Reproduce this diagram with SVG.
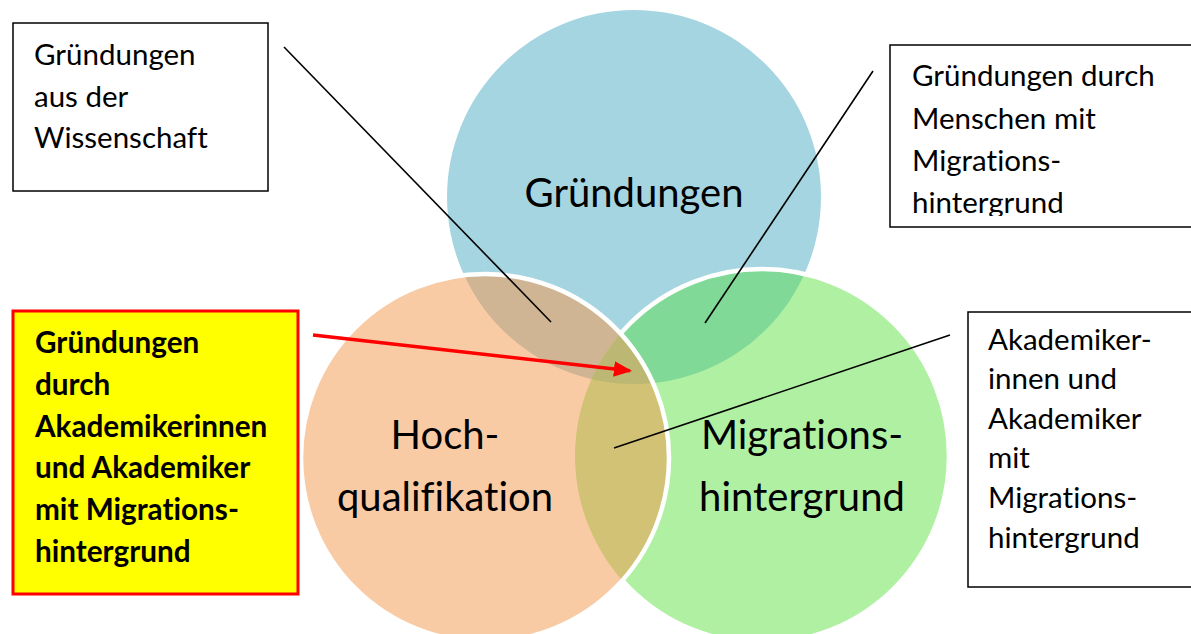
<svg xmlns="http://www.w3.org/2000/svg" width="1191" height="634" viewBox="0 0 1191 634">
<style>
  text { font-family: Lato, "Liberation Sans", sans-serif; fill: #000; font-variant-ligatures: none; font-feature-settings: "liga" 0, "clig" 0; }
  .big { font-size: 40px; text-anchor: middle; }
  .box { fill: #fff; stroke: #000; stroke-width: 1.5; }
  .bt { font-size: 29.5px; }
  .bold { font-size: 29.7px; font-weight: bold; }
  .conn { stroke: #000; stroke-width: 1.6; fill: none; }
</style>
<defs>
  <clipPath id="cBlue"><circle cx="634" cy="197" r="187"/></clipPath>
  <clipPath id="cGreen"><circle cx="762" cy="456" r="187"/></clipPath>
  <clipPath id="cBox2"><rect x="880" y="40" width="320" height="176"/></clipPath>
  <marker id="redArrow" markerWidth="5.2" markerHeight="4.4" refX="4.6" refY="2.2" orient="auto" markerUnits="strokeWidth">
    <path d="M0,0 L5.2,2.2 L0,4.4 Z" fill="#ff0000"/>
  </marker>
</defs>
<rect width="1191" height="634" fill="#fff"/>

<g id="venn">
  <circle id="blue" cx="634" cy="197" r="187" fill="#a6d5e2"/>
  <circle id="green" cx="762" cy="456" r="187" fill="#b0f0a3"/>
  <circle cx="762" cy="456" r="187" fill="#80d996" clip-path="url(#cBlue)"/>
  <circle cx="762" cy="456" r="187" fill="none" stroke="#fff" stroke-width="4.5"/>
  <circle id="orange" cx="485" cy="458" r="184" fill="#f9cba5"/>
  <circle cx="485" cy="458" r="184" fill="#cfb594" clip-path="url(#cBlue)"/>
  <circle cx="485" cy="458" r="184" fill="#d2c275" clip-path="url(#cGreen)"/>
  <g clip-path="url(#cBlue)">
    <circle cx="485" cy="458" r="184" fill="#bcb874" clip-path="url(#cGreen)"/>
  </g>
  <circle cx="485" cy="458" r="184" fill="none" stroke="#fff" stroke-width="4.5"/>
  <text class="big" x="634" y="207">Gründungen</text>
  <text class="big" x="445" y="449">Hoch-</text>
  <text class="big" x="445" y="511">qualifikation</text>
  <text class="big" x="802" y="449">Migrations-</text>
  <text class="big" x="802" y="511">hintergrund</text>
</g>

<g id="box-wissenschaft">
  <rect class="box" x="13" y="23" width="255" height="168"/>
  <text class="bt" x="34" y="65">Gründungen</text>
  <text class="bt" x="34" y="107">aus der</text>
  <text class="bt" x="34" y="148">Wissenschaft</text>
</g>

<g id="box-migration">
  <rect class="box" x="890" y="45" width="320" height="182"/>
  <g clip-path="url(#cBox2)">
    <text class="bt" x="912" y="86">Gründungen durch</text>
    <text class="bt" x="912" y="129">Menschen mit</text>
    <text class="bt" x="912" y="171">Migrations-</text>
    <text class="bt" x="912" y="213">hintergrund</text>
  </g>
</g>

<g id="box-akademiker">
  <rect class="box" x="968" y="312" width="240" height="275"/>
  <text class="bt" x="988" y="350">Akademiker-</text>
  <text class="bt" x="988" y="389">innen und</text>
  <text class="bt" x="988" y="429">Akademiker</text>
  <text class="bt" x="988" y="468">mit</text>
  <text class="bt" x="988" y="508">Migrations-</text>
  <text class="bt" x="988" y="548">hintergrund</text>
</g>

<g id="box-highlight">
  <rect x="13" y="311" width="285" height="283" fill="#ffff00" stroke="#ff0000" stroke-width="3"/>
  <text class="bold" x="35" y="353">Gründungen</text>
  <text class="bold" x="35" y="395">durch</text>
  <text class="bold" x="35" y="437">Akademikerinnen</text>
  <text class="bold" x="35" y="478">und Akademiker</text>
  <text class="bold" x="35" y="520">mit Migrations-</text>
  <text class="bold" x="35" y="562">hintergrund</text>
</g>

<g id="connectors">
  <line class="conn" x1="284" y1="47" x2="551" y2="322"/>
  <line class="conn" x1="873" y1="71" x2="705" y2="323"/>
  <line class="conn" x1="950" y1="335" x2="614" y2="448"/>
  <line x1="313" y1="335" x2="630" y2="370.8" stroke="#ff0000" stroke-width="3.5" marker-end="url(#redArrow)"/>
</g>
</svg>
